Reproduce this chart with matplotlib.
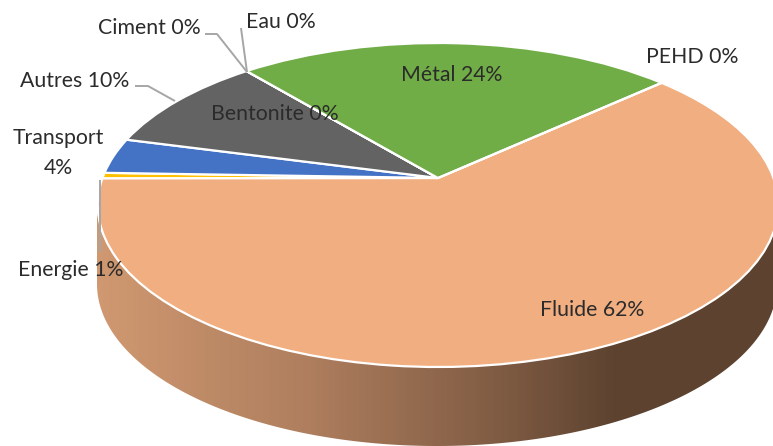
import numpy as np
import matplotlib

matplotlib.use("Agg")

import matplotlib.pyplot as plt

from matplotlib.colors import LinearSegmentedColormap
from matplotlib.patches import Polygon
from matplotlib.transforms import Transform

plt.rcParams["font.family"] = ["Lato", "DejaVu Sans"]

# clockwise from the Fluide/Metal boundary
CATEGORIES = ["Fluide", "Energie", "Transport", "Autres", "Ciment", "Eau", "Bentonite", "Métal", "PEHD"]
VALUES = [61.7, 0.55, 3.55, 9.8, 0.0, 0.0, 0.0, 24.4, 0.0]
SHOWN_PCT = ["62%", "1%", "4%", "10%", "0%", "0%", "0%", "24%", "0%"]
COLORS = ["#F1AE80", "#FFC000", "#4472C4", "#636363", "#A5A5A5", "#5B9BD5", "#264478", "#70AD47", "#9E480E"]

WIDTH, HEIGHT = 773, 446
APEX_X, APEX_Y = 438, 178
RIM_CX, RIM_CY, RIM_RX, RIM_RY = 437, 205, 340, 162
DEPTH = 79
TEXT_COLOR = "#2B2B2B"
LEADER_COLOR = "#A6A6A6"


class TiltedPie(Transform):
    """Perspective view of the unit-circle pie, in image pixels."""

    input_dims = 2
    output_dims = 2
    is_separable = False
    has_inverse = False

    def transform_non_affine(self, values):
        values = np.asarray(values)
        w = 1 + values[:, 1] / 6
        return np.column_stack(
            (APEX_X + 335.5 * values[:, 0] / w, APEX_Y - 157.5 * values[:, 1] / w)
        )


fig = plt.figure(figsize=(WIDTH / 100, HEIGHT / 100), dpi=100)
ax = fig.add_axes([0, 0, 1, 1])

# side wall with its horizontal shading
t = np.radians(np.linspace(180, 360, 200))
rim_x = RIM_CX + RIM_RX * np.cos(t)
rim_y = RIM_CY - RIM_RY * np.sin(t)
wall = Polygon(
    np.vstack(
        [
            np.column_stack((rim_x, rim_y)),
            np.column_stack((rim_x[::-1], rim_y[::-1] + DEPTH)),
        ]
    ),
    closed=True,
    facecolor="none",
    edgecolor="none",
    transform=ax.transData,
)
ax.add_patch(wall)
wall_cmap = LinearSegmentedColormap.from_list(
    "wall",
    [
        (0.0, "#CF9870"),
        (0.13, "#CF9870"),
        (0.40, "#AE7E5E"),
        (0.65, "#7F5B43"),
        (0.80, "#5C422F"),
        (1.0, "#5C422F"),
    ],
)
shade = ax.imshow(
    np.linspace(0, 1, 256).reshape(1, -1),
    cmap=wall_cmap,
    extent=(0, WIDTH, HEIGHT, 0),
    aspect="auto",
    zorder=1,
)
shade.set_clip_path(wall)

wedges, _ = ax.pie(
    VALUES,
    colors=COLORS,
    startangle=42.2,
    counterclock=False,
    normalize=True,
    wedgeprops={"edgecolor": "white", "linewidth": 1.6},
)
pie_transform = TiltedPie() + ax.transData
for wedge in wedges:
    wedge.set_transform(pie_transform)
    wedge.set_zorder(2)

ax.set_aspect("auto")
ax.set_xlim(0, WIDTH)
ax.set_ylim(HEIGHT, 0)
ax.axis("off")

# leader lines
leaders = [
    ([205, 217, 247], [34, 34, 72]),
    ([241, 247], [28, 72]),
    ([135, 148, 175], [86, 86, 101]),
    ([100, 100], [180, 252]),
]
for xs, ys in leaders:
    ax.plot(xs, ys, color=LEADER_COLOR, lw=1.4, zorder=3, solid_capstyle="butt")

label_pos = {
    "Fluide": (592, 310),
    "Energie": (71, 270),
    "Transport": (58, 153),
    "Autres": (75, 81),
    "Ciment": (149, 28),
    "Eau": (281, 22),
    "Bentonite": (275, 114),
    "Métal": (452, 75),
    "PEHD": (692, 57),
}
for name, pct in zip(CATEGORIES, SHOWN_PCT):
    sep = "\n" if name == "Transport" else " "
    x, y = label_pos[name]
    ax.text(
        x,
        y,
        f"{name}{sep}{pct}",
        ha="center",
        va="center",
        fontsize=15.3,
        color=TEXT_COLOR,
        zorder=4,
        linespacing=1.65,
    )

fig.savefig("out.png", dpi=100)
